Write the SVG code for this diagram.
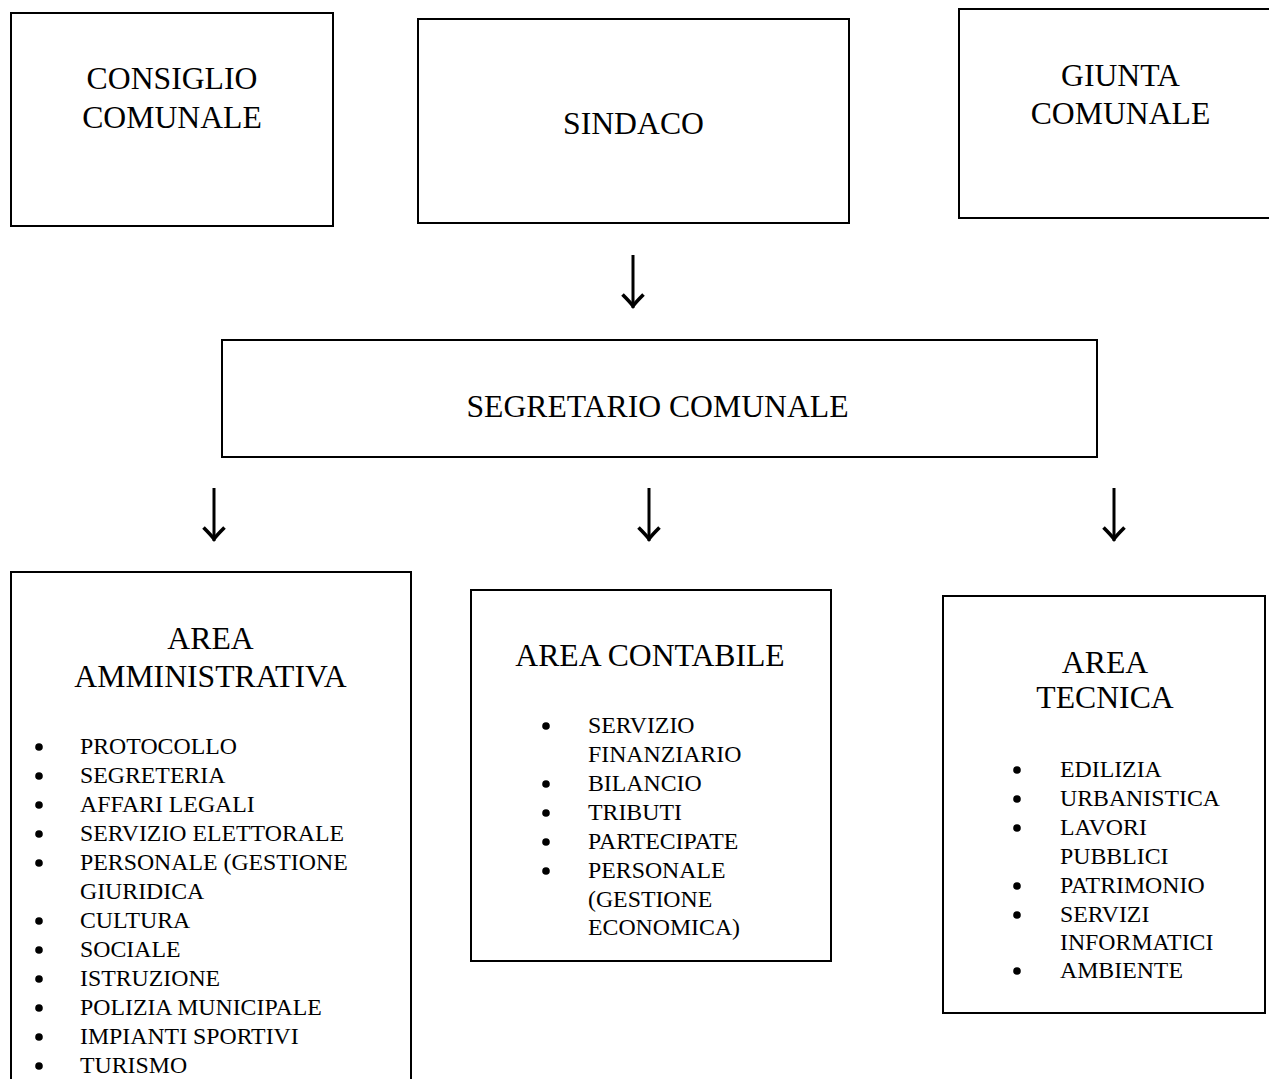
<svg xmlns="http://www.w3.org/2000/svg" width="1269" height="1079" viewBox="0 0 1269 1079">
<style>
.box{fill:#fff;stroke:#000;stroke-width:2}
.t{font-family:"Liberation Serif","Times New Roman",serif;font-size:31.7px;fill:#000;text-anchor:middle}
.i{font-family:"Liberation Serif","Times New Roman",serif;font-size:23.8px;fill:#000}
.b{fill:#000}
.ar{stroke:#000;stroke-width:3;fill:none}
</style>
<defs>
<marker id="head" markerUnits="userSpaceOnUse" viewBox="-20 -20 40 40" markerWidth="40" markerHeight="40" refX="0" refY="0" orient="auto">
<path d="M-13.5,-10.5 Q-6,-3 -2,0 Q-6,3 -13.5,10.5" fill="none" stroke="#000" stroke-width="3.6" stroke-linejoin="miter"/>
</marker>
</defs>
<g id="consiglio">
<rect class="box" x="11" y="13" width="322" height="213"/>
<text class="t" x="172" y="89">CONSIGLIO</text>
<text class="t" x="172" y="128">COMUNALE</text>
</g>
<g id="sindaco">
<rect class="box" x="418" y="19" width="431" height="204"/>
<text class="t" x="633.5" y="134">SINDACO</text>
</g>
<g id="giunta">
<rect class="box" x="959" y="9" width="330" height="209"/>
<text class="t" x="1120.5" y="86">GIUNTA</text>
<text class="t" x="1120.5" y="124">COMUNALE</text>
</g>
<g id="segretario">
<rect class="box" x="222" y="340" width="875" height="117"/>
<text class="t" x="657.5" y="417">SEGRETARIO COMUNALE</text>
</g>
<g id="amministrativa">
<rect class="box" x="11" y="572" width="400" height="530"/>
<text class="t" x="210.5" y="649">AREA</text>
<text class="t" x="210.5" y="687">AMMINISTRATIVA</text>
<g class="b">
<circle cx="39" cy="747" r="3.8"/><circle cx="39" cy="776" r="3.8"/><circle cx="39" cy="805" r="3.8"/><circle cx="39" cy="834" r="3.8"/><circle cx="39" cy="863" r="3.8"/><circle cx="39" cy="921" r="3.8"/><circle cx="39" cy="950" r="3.8"/><circle cx="39" cy="979" r="3.8"/><circle cx="39" cy="1008" r="3.8"/><circle cx="39" cy="1037" r="3.8"/><circle cx="39" cy="1066" r="3.8"/>
</g>
<text class="i" x="80" y="754">PROTOCOLLO</text>
<text class="i" x="80" y="783">SEGRETERIA</text>
<text class="i" x="80" y="812">AFFARI LEGALI</text>
<text class="i" x="80" y="841">SERVIZIO ELETTORALE</text>
<text class="i" x="80" y="870">PERSONALE (GESTIONE</text>
<text class="i" x="80" y="899">GIURIDICA</text>
<text class="i" x="80" y="928">CULTURA</text>
<text class="i" x="80" y="957">SOCIALE</text>
<text class="i" x="80" y="986">ISTRUZIONE</text>
<text class="i" x="80" y="1015">POLIZIA MUNICIPALE</text>
<text class="i" x="80" y="1044">IMPIANTI SPORTIVI</text>
<text class="i" x="80" y="1073">TURISMO</text>
</g>
<g id="contabile">
<rect class="box" x="471" y="590" width="360" height="371"/>
<text class="t" x="650" y="666">AREA CONTABILE</text>
<g class="b">
<circle cx="546" cy="726" r="3.8"/><circle cx="546" cy="784" r="3.8"/><circle cx="546" cy="813" r="3.8"/><circle cx="546" cy="842" r="3.8"/><circle cx="546" cy="871" r="3.8"/>
</g>
<text class="i" x="588" y="733">SERVIZIO</text>
<text class="i" x="588" y="762">FINANZIARIO</text>
<text class="i" x="588" y="791">BILANCIO</text>
<text class="i" x="588" y="820">TRIBUTI</text>
<text class="i" x="588" y="849">PARTECIPATE</text>
<text class="i" x="588" y="878">PERSONALE</text>
<text class="i" x="588" y="907">(GESTIONE</text>
<text class="i" x="588" y="935">ECONOMICA)</text>
</g>
<g id="tecnica">
<rect class="box" x="943" y="596" width="322" height="417"/>
<text class="t" x="1105" y="673">AREA</text>
<text class="t" x="1105" y="708">TECNICA</text>
<g class="b">
<circle cx="1017" cy="770" r="3.8"/><circle cx="1017" cy="799" r="3.8"/><circle cx="1017" cy="828" r="3.8"/><circle cx="1017" cy="886" r="3.8"/><circle cx="1017" cy="915" r="3.8"/><circle cx="1017" cy="971" r="3.8"/>
</g>
<text class="i" x="1060" y="777">EDILIZIA</text>
<text class="i" x="1060" y="806">URBANISTICA</text>
<text class="i" x="1060" y="835">LAVORI</text>
<text class="i" x="1060" y="864">PUBBLICI</text>
<text class="i" x="1060" y="893">PATRIMONIO</text>
<text class="i" x="1060" y="922">SERVIZI</text>
<text class="i" x="1060" y="950">INFORMATICI</text>
<text class="i" x="1060" y="978">AMBIENTE</text>
</g>
<g id="connectors">
<line class="ar" x1="633" y1="255" x2="633" y2="308" marker-end="url(#head)"/>
<line class="ar" x1="214" y1="488" x2="214" y2="541" marker-end="url(#head)"/>
<line class="ar" x1="649" y1="488" x2="649" y2="541" marker-end="url(#head)"/>
<line class="ar" x1="1114" y1="488" x2="1114" y2="541" marker-end="url(#head)"/>
</g>
</svg>
